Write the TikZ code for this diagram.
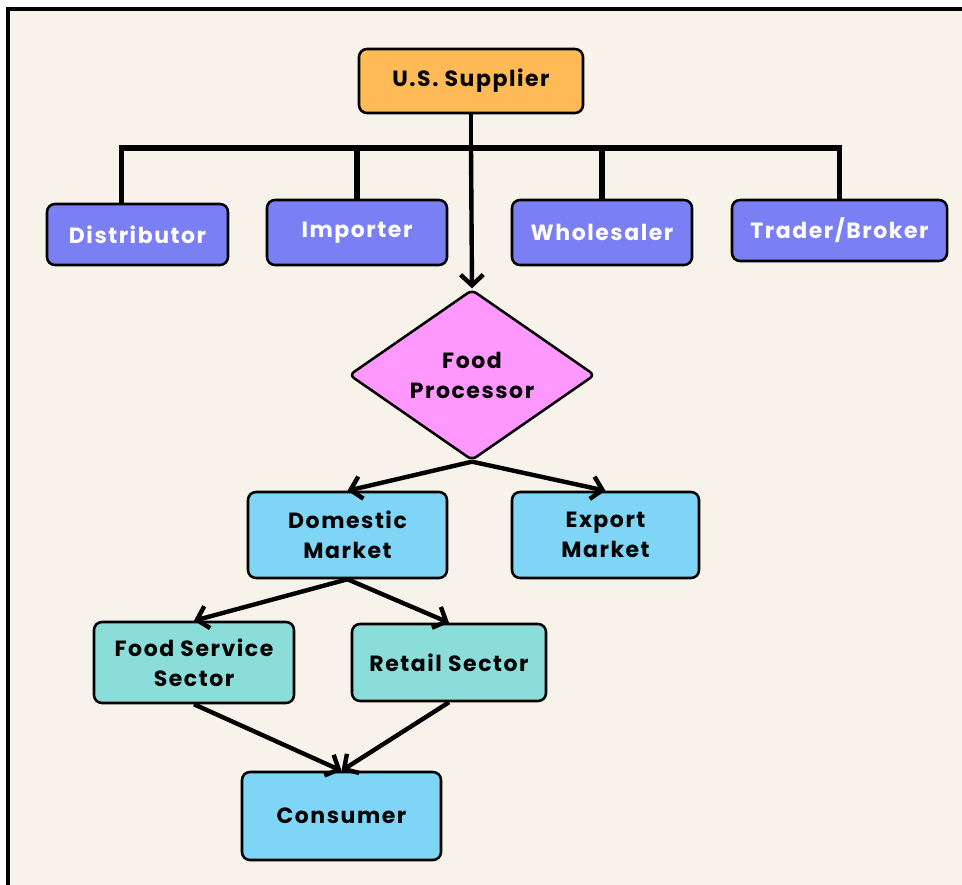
\documentclass[tikz,border=0pt]{standalone}
\usepackage{fontspec}
\setmainfont{Poppins}[LetterSpace=7]
\usetikzlibrary{shapes.geometric,arrows.meta}

\tikzset{every picture/.style={line width=0.75pt}}
\tikzset{
  box/.style={draw={rgb, 255:red, 0; green, 0; blue, 0 }, line width=1.9pt, rounded corners=6pt, align=center, font=\fontsize{16.5}{22.5}\selectfont\bfseries, inner sep=0pt},
  supbox/.style={box, fill={rgb, 255:red, 253; green, 186; blue, 87 }},
  agentbox/.style={box, fill={rgb, 255:red, 123; green, 127; blue, 244 }, text=white},
  marketbox/.style={box, fill={rgb, 255:red, 127; green, 213; blue, 245 }},
  sectorbox/.style={box, fill={rgb, 255:red, 139; green, 221; blue, 217 }},
  procshape/.style={box, diamond, rounded corners=4pt, fill={rgb, 255:red, 255; green, 152; blue, 254 }},
  busline/.style={line width=4.2pt},
  flow/.style={line width=3.3pt, -{Straight Barb[length=8pt,width=17pt]}}
}

\begin{document}
\begin{tikzpicture}[x=0.75pt,y=0.75pt,yscale=-1,xscale=1]
\useasboundingbox (0,0) rectangle (962,884);
\clip (0,0) rectangle (962,884);

%Shape: Frame
\draw [line width=3pt, fill={rgb, 255:red, 247; green, 242; blue, 234 }] (8,9.5) rectangle (990,910);

% Text Node
\node [supbox, minimum width=168pt, minimum height=48pt] (sup) at (471,81) {U.S. Supplier};
% Text Node
\node [agentbox, minimum width=135.75pt, minimum height=45.75pt] (dist) at (137.5,234.5) {Distributor};
% Text Node
\node [agentbox, minimum width=135pt, minimum height=48.75pt] (imp) at (357,232.5) {Importer};
% Text Node
\node [agentbox, minimum width=135pt, minimum height=48.75pt] (whole) at (602,232.5) {Wholesaler};
% Text Node
\node [agentbox, minimum width=161.25pt, minimum height=45.75pt] (trad) at (839.5,230.5) {Trader/Broker};
% Text Node
\node [procshape, minimum width=184.5pt, minimum height=124.5pt] (proc) at (472,375) {Food\\Processor};
% Text Node
\node [marketbox, minimum width=149.25pt, minimum height=64.5pt] (dom) at (347.5,535) {Domestic\\Market};
% Text Node
\node [marketbox, minimum width=140.25pt, minimum height=64.5pt] (exp) at (605.5,535) {Export\\Market};
% Text Node
\node [sectorbox, minimum width=150pt, minimum height=60.75pt] (fss) at (194,662.5) {Food Service\\Sector};
% Text Node
\node [sectorbox, minimum width=145.5pt, minimum height=57.75pt] (ret) at (449,662.5) {Retail Sector};
% Text Node
\node [marketbox, minimum width=149.25pt, minimum height=66pt] (con) at (341.5,816) {Consumer};

%Straight Lines: bus
\coordinate (bus) at (471,148);
\draw [busline] ([xshift=-12pt]dist.north) |- (bus) -| (trad.north);
\draw [busline] (imp.north) -- (imp.north |- bus);
\draw [busline] (whole.north) -- (whole.north |- bus);
\draw [line width=3.6pt] (sup.south) -- (bus);
\draw [flow] (bus) -- (proc.north);

%Straight Lines: flows
\draw [flow] (proc.south) -- (dom.north);
\draw [flow] (proc.south) -- (exp.north);
\draw [flow] (dom.south) -- (fss.north);
\draw [flow] (dom.south) -- (ret.north);
\draw [flow] (fss.south) -- (con.north);
\draw [flow] (ret.south) -- (con.north);

\end{tikzpicture}
\end{document}
